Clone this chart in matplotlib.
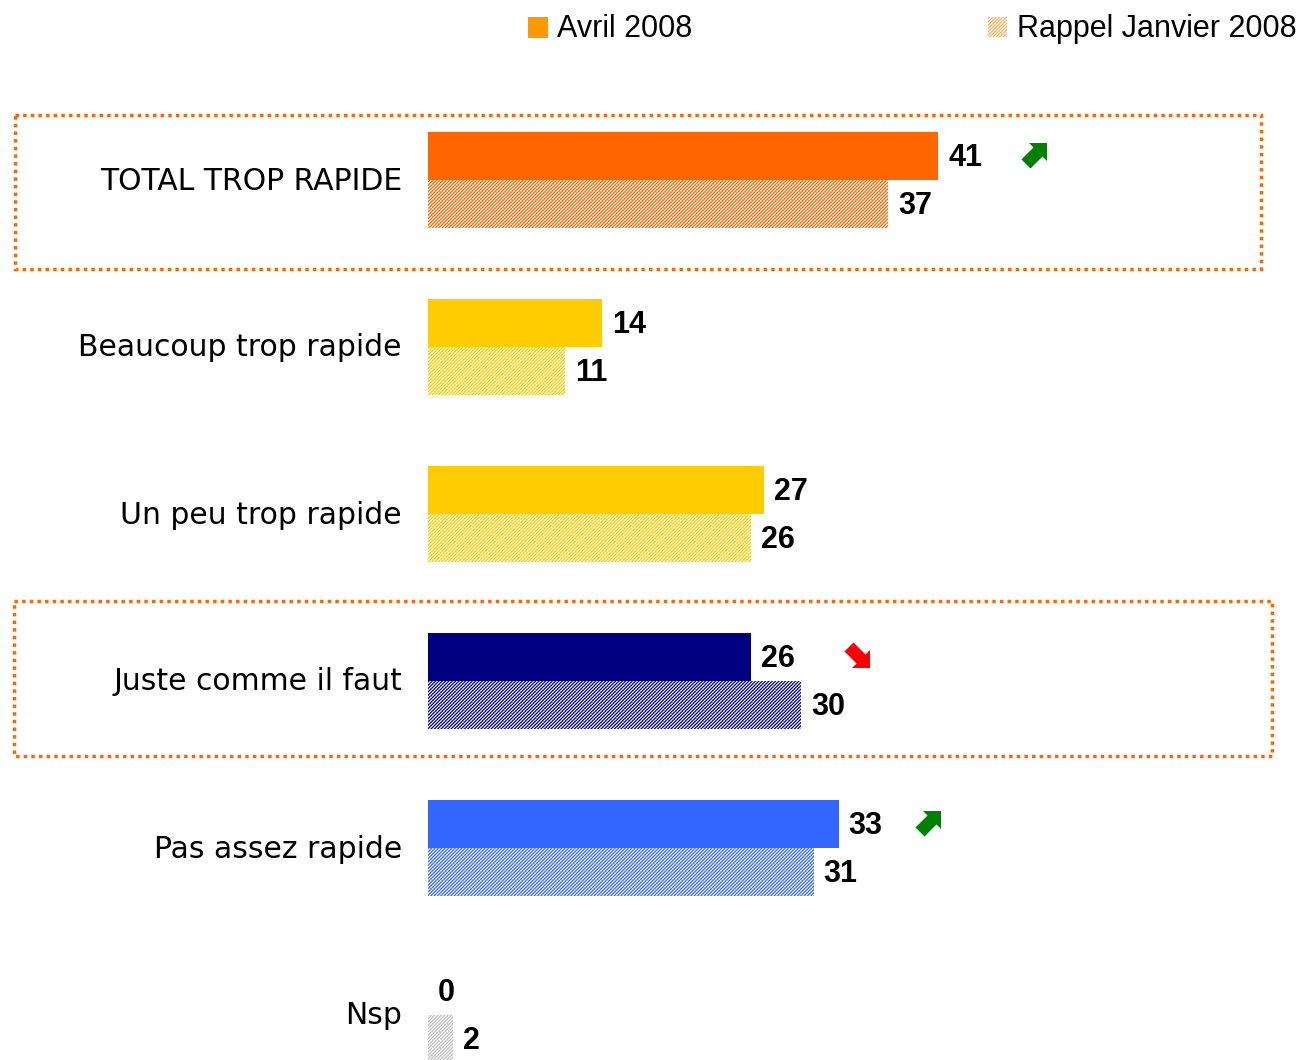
import matplotlib
matplotlib.use('Agg')
import matplotlib.pyplot as plt
from matplotlib.patches import Rectangle, Polygon
import numpy as np

plt.rcParams['hatch.linewidth'] = 0.9

categories = ['TOTAL TROP RAPIDE', 'Beaucoup trop rapide', 'Un peu trop rapide',
              'Juste comme il faut', 'Pas assez rapide', 'Nsp']
avril_2008 = [41, 14, 27, 26, 33, 0]
janvier_2008 = [37, 11, 26, 30, 31, 2]
colors = ['#FF6600', '#FFCC00', '#FFCC00', '#000080', '#3366FF', '#C0C0C0']
# tendance: +1 hausse, -1 baisse, 0 rien
trend = [1, 0, 0, -1, 1, 0]

W, H = 1308, 1060
fig = plt.figure(figsize=(W / 100, H / 100), dpi=100)

# axe des barres : commence a x=428 px, 12.44 px par point
x0 = 428
ppu = 12.44
row0, step = 180, 167
ax = fig.add_axes([x0 / W, 0, 1 - x0 / W, 1])
ax.set_xlim(0, (W - x0) / ppu)
ax.set_ylim((H - row0) / step, -row0 / step)
ax.axis('off')

y = np.arange(len(categories))
h = 48 / step
ax.barh(y - h / 2, avril_2008, height=h, color=colors, linewidth=0)
ax.barh(y + h / 2, janvier_2008, height=h, color='white', edgecolor=colors,
        hatch='//////////', linewidth=0)

off = 10 / ppu
dy = 2 / step
for i in range(len(categories)):
    ax.text(avril_2008[i] + off, y[i] - h / 2 + dy, str(avril_2008[i]), ha='left', va='center',
            fontsize=22, fontweight='bold', family='Liberation Sans')
    ax.text(janvier_2008[i] + off, y[i] + h / 2 + dy, str(janvier_2008[i]), ha='left', va='center',
            fontsize=22, fontweight='bold', family='Liberation Sans')

# overlay en pixels pour les libelles, cadres, fleches et legende
ov = fig.add_axes([0, 0, 1, 1], zorder=-1)
ov.set_xlim(0, W)
ov.set_ylim(H, 0)
ov.axis('off')
ov.patch.set_alpha(0)

for i, c in enumerate(categories):
    ov.text(402, row0 + step * i + 1, c, ha='right', va='center', fontsize=21.5,
            family='DejaVu Sans')

ov.add_patch(Rectangle((15, 115), 1246, 154, fill=False, edgecolor='#FF6600',
                       linestyle=(0, (1, 1.2)), linewidth=2.5))
ov.add_patch(Rectangle((14, 601), 1258, 155, fill=False, edgecolor='#FF6600',
                       linestyle=(0, (1, 1.2)), linewidth=2.5))


def arrow(cx, cy, up, col):
    # fleche epaisse diagonale (haut-droite), retournee pour la baisse
    pts = np.array([[13, -12], [-5, -12], [-0.5, -7.5], [-12.5, 4.5], [-3.5, 13.5],
                    [8.5, 1.5], [13, 6]], float)
    if not up:
        pts[:, 1] = -pts[:, 1]
    ov.add_patch(Polygon(pts + [cx, cy], closed=True, color=col, linewidth=0))


arrow_x = {0: 1034, 3: 857, 4: 928}
for i, t in enumerate(trend):
    if t == 0:
        continue
    arrow(arrow_x[i], row0 + step * i - 25, t > 0, '#008000' if t > 0 else '#FF0000')

# legende
ov.add_patch(Rectangle((528, 17), 20, 21, color='#FF9900', linewidth=0))
ov.text(557, 29, 'Avril 2008', ha='left', va='center', fontsize=22, family='Liberation Sans')
ov.add_patch(Rectangle((988, 17), 19, 20, facecolor='white', edgecolor='#FFB060',
                       hatch='//////////', linewidth=0))
ov.text(1017, 29, 'Rappel Janvier 2008', ha='left', va='center', fontsize=22,
        family='Liberation Sans')

fig.savefig('out.png', dpi=100)
